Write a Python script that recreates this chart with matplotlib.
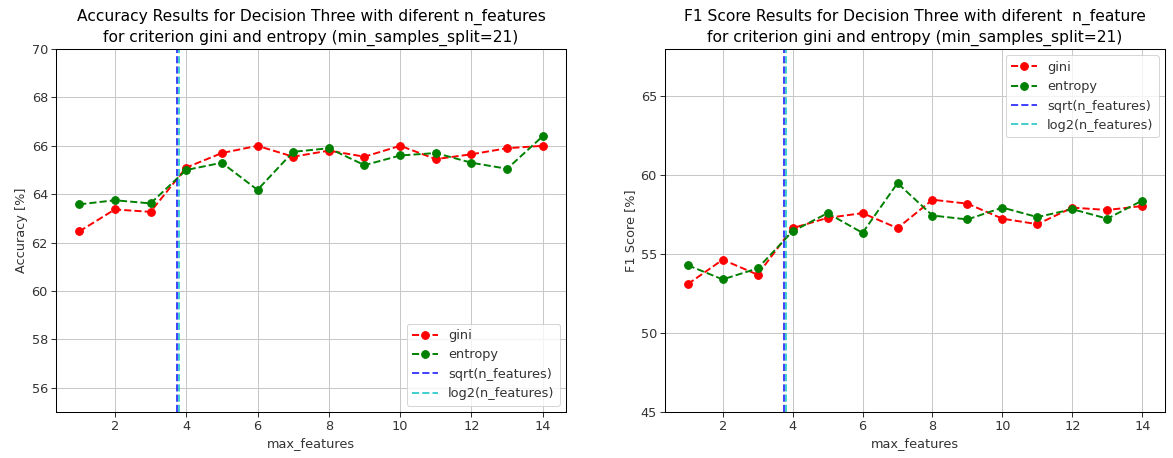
import numpy as np
import matplotlib
matplotlib.use("Agg")
import matplotlib.pyplot as plt

max_features = list(range(1, 15))
n_features = 14

acc_gini = [62.46, 63.37, 63.27, 65.1, 65.7, 66.0, 65.55, 65.8, 65.55, 66.0, 65.45, 65.65, 65.9, 66.0]
acc_entropy = [63.58, 63.75, 63.62, 65.0, 65.3, 64.18, 65.75, 65.9, 65.2, 65.6, 65.7, 65.3, 65.05, 66.4]

f1_gini = [53.1, 54.65, 53.7, 56.65, 57.3, 57.6, 56.65, 58.45, 58.2, 57.25, 56.9, 57.95, 57.8, 58.05]
f1_entropy = [54.3, 53.4, 54.1, 56.45, 57.6, 56.35, 59.5, 57.45, 57.2, 57.95, 57.35, 57.85, 57.25, 58.4]

titles = [
    "Accuracy Results for Decision Three with diferent n_features\nfor criterion gini and entropy (min_samples_split=21)",
    "F1 Score Results for Decision Three with diferent  n_feature\nfor criterion gini and entropy (min_samples_split=21)",
]
ylabels = ["Accuracy [%]", "F1 Score [%]"]

s = 1.29
plt.rcParams.update({
    "font.size": 10 * s,
    "axes.linewidth": 0.8 * s,
    "xtick.major.width": 0.8 * s,
    "ytick.major.width": 0.8 * s,
    "xtick.major.size": 3.5 * s,
    "ytick.major.size": 3.5 * s,
    "text.color": "#333333",
    "xtick.color": "#333333",
    "ytick.color": "#333333",
    "axes.labelcolor": "#333333",
})

W, H = 1173, 458
dpi = 72
fig = plt.figure(figsize=(W / dpi, H / dpi), dpi=dpi)
ax1 = fig.add_axes([56 / W, 1 - 412 / H, 510 / W, 363 / H])
ax2 = fig.add_axes([665 / W, 1 - 412 / H, 500 / W, 363 / H])

configs = [
    (ax1, acc_gini, acc_entropy, (55, 70), np.arange(56, 71, 2), "lower right"),
    (ax2, f1_gini, f1_entropy, (45, 68), np.arange(45, 66, 5), "upper right"),
]

for i, (ax, g, e, ylim, yt, loc) in enumerate(configs):
    ax.plot(max_features, g, "o--", color="red", markersize=6 * s, linewidth=1.5 * s, label="gini")
    ax.plot(max_features, e, "o--", color="green", markersize=6 * s, linewidth=1.5 * s, label="entropy")
    ax.axvline(np.sqrt(n_features), color="blue", linestyle="--", linewidth=1.5 * s, alpha=0.75, label="sqrt(n_features)")
    ax.axvline(np.log2(n_features), color="c", linestyle="--", linewidth=1.5 * s, alpha=0.75, label="log2(n_features)")
    ax.set_ylim(*ylim)
    ax.set_yticks(yt)
    ax.set_xticks(range(2, 15, 2))
    ax.grid(True, color="#c8c8c8", linewidth=0.8 * s)
    ax.set_axisbelow(True)
    ax.set_title(titles[i], fontsize=12 * s, color="black", linespacing=1.45, pad=7)
    ax.set_xlabel("max_features")
    ax.set_ylabel(ylabels[i])
    ax.legend(loc=loc)

fig.savefig("out.png", dpi=dpi)
